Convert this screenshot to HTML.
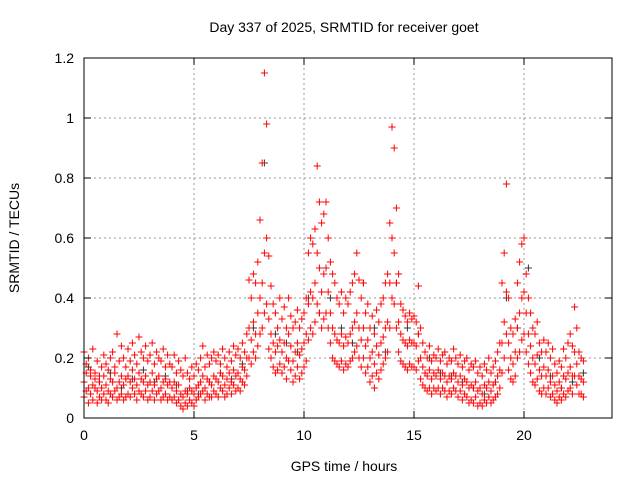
<!DOCTYPE html>
<html><head><meta charset="utf-8">
<style>
html,body{margin:0;padding:0;background:#fff;}
svg{display:block;font-family:"Liberation Sans",sans-serif;}
</style></head>
<body>
<svg id="chart" width="640" height="480" viewBox="0 0 640 480" xmlns="http://www.w3.org/2000/svg">
<rect width="640" height="480" fill="#fff"/>
<text x="344" y="32" font-size="14" text-anchor="middle">Day 337 of 2025, SRMTID for receiver goet</text>
<text x="344" y="471" font-size="14" text-anchor="middle">GPS time / hours</text>
<text transform="translate(19,238) rotate(-90)" font-size="14" text-anchor="middle">SRMTID / TECUs</text>
<g id="grid"></g><g id="marks"></g><g id="axes"></g>
</svg>
<script>
const xTicks=[0,5,10,15,20];
const yTicks=[0,0.2,0.4,0.6,0.8,1,1.2];
const yTickLabels=["0","0.2","0.4","0.6","0.8","1","1.2"];
const sampleStep=0.1; // hours between samples
const redUpper=[.22,.18,.20,.16,.23,.15,.19,.14,.17,.21,.18,.16,.20,.22,.17,.28,.19,.24,.20,.17,.23,.19,.25,.21,.18,.27,.22,.20,.24,.19,.21,.25,.18,.22,.20,.19,.23,.17,.21,.18,.17,.21,.15,.19,.16,.14,.20,.15,.13,.17,.14,.18,.16,.20,.24,.17,.21,.18,.20,.22,.19,.21,.18,.23,.20,.17,.22,.19,.24,.21,.23,.20,.25,.22,.28,.46,.40,.48,.45,.52,.66,.85,1.15,.98,.54,.44,.38,.35,.30,.40,.33,.37,.30,.40,.34,.30,.32,.36,.30,.33,.35,.40,.55,.60,.58,.63,.84,.72,.65,.68,.72,.60,.52,.48,.45,.40,.38,.42,.35,.40,.38,.42,.45,.48,.55,.46,.40,.45,.35,.38,.30,.34,.28,.36,.32,.38,.40,.45,.48,.65,.97,.90,.70,.48,.38,.36,.34,.32,.35,.33,.34,.32,.44,.30,.25,.22,.20,.24,.19,.21,.20,.23,.19,.21,.22,.18,.20,.19,.23,.20,.18,.21,.17,.19,.20,.16,.18,.17,.19,.15,.17,.14,.18,.16,.20,.15,.17,.19,.22,.25,.45,.55,.78,.40,.30,.28,.33,.45,.52,.58,.60,.48,.40,.35,.30,.28,.32,.25,.22,.26,.22,.25,.20,.23,.18,.15,.19,.17,.23,.20,.25,.28,.24,.37,.30,.22,.20,.19];
const redMid=[.12,.15,.10,.14,.11,.13,.09,.12,.10,.14,.11,.09,.13,.12,.15,.10,.12,.14,.11,.13,.14,.12,.16,.13,.11,.15,.13,.12,.14,.11,.12,.15,.11,.13,.14,.10,.12,.13,.11,.12,.10,.12,.09,.11,.08,.07,.09,.08,.10,.09,.08,.10,.11,.12,.14,.10,.13,.12,.11,.14,.13,.12,.15,.14,.11,.13,.15,.12,.16,.14,.15,.13,.17,.16,.20,.30,.26,.32,.28,.35,.40,.45,.55,.60,.33,.28,.25,.22,.24,.26,.22,.25,.20,.28,.24,.19,.22,.25,.21,.23,.25,.28,.38,.42,.40,.45,.55,.50,.42,.48,.50,.42,.35,.30,.28,.26,.25,.28,.24,.27,.25,.28,.30,.32,.35,.30,.26,.30,.24,.26,.20,.22,.18,.24,.21,.25,.27,.30,.32,.45,.60,.55,.45,.32,.28,.26,.25,.24,.26,.25,.25,.24,.28,.20,.17,.15,.14,.16,.13,.15,.14,.16,.13,.15,.14,.12,.14,.13,.15,.14,.12,.14,.11,.13,.12,.10,.11,.10,.12,.09,.10,.08,.11,.10,.12,.09,.11,.12,.14,.16,.25,.32,.42,.25,.20,.18,.22,.30,.35,.40,.42,.35,.28,.24,.20,.18,.21,.16,.14,.17,.14,.16,.12,.14,.11,.09,.12,.10,.14,.13,.15,.17,.14,.22,.18,.14,.13,.12];
const redLow=[.07,.09,.05,.08,.06,.10,.05,.07,.06,.08,.06,.05,.08,.07,.09,.06,.07,.08,.06,.07,.08,.07,.10,.08,.06,.09,.08,.07,.09,.06,.07,.09,.06,.08,.09,.06,.07,.08,.06,.07,.06,.07,.05,.06,.04,.03,.05,.04,.06,.05,.04,.06,.07,.08,.09,.06,.08,.07,.07,.09,.08,.07,.10,.09,.07,.08,.10,.08,.11,.09,.10,.09,.12,.11,.14,.20,.18,.22,.20,.24,.28,.30,.35,.38,.23,.20,.17,.15,.16,.18,.15,.17,.13,.19,.16,.12,.14,.17,.13,.15,.17,.19,.26,.30,.28,.32,.38,.35,.30,.33,.35,.30,.25,.20,.19,.18,.17,.19,.16,.18,.17,.19,.20,.22,.24,.20,.17,.20,.15,.17,.12,.14,.10,.15,.13,.16,.18,.20,.22,.30,.40,.38,.30,.22,.19,.18,.17,.16,.18,.17,.17,.16,.19,.13,.11,.10,.09,.10,.08,.10,.09,.10,.08,.10,.09,.07,.09,.08,.10,.09,.07,.09,.06,.08,.07,.05,.06,.05,.07,.04,.05,.04,.06,.05,.07,.05,.06,.07,.08,.10,.15,.20,.28,.16,.13,.12,.14,.20,.22,.26,.28,.22,.18,.15,.12,.11,.13,.09,.08,.10,.08,.10,.07,.08,.06,.05,.07,.06,.08,.07,.09,.10,.08,.14,.11,.08,.08,.07];
const blackStep=0.5;
const blackVals=[.17,.12,.15,.10,.13,.16,.12,.14,.11,.09,.08,.12,.15,.13,.18,.30,.85,.28,.25,.22,.40,.35,.40,.30,.25,.45,.30,.22,.45,.30,.28,.20,.15,.14,.12,.10,.08,.12,.40,.30,.50,.20,.14,.10,.12,.15];

const L=84,R=612,T=58,B=418,xMax=24,yMax=1.2;
const xs=v=>L+(v/xMax)*(R-L);
const ys=v=>B-(v/yMax)*(B-T);
const NS="http://www.w3.org/2000/svg";
function mk(tag,attrs,parent){const e=document.createElementNS(NS,tag);for(const k in attrs)e.setAttribute(k,attrs[k]);parent.appendChild(e);return e;}
const grid=document.getElementById('grid'),marks=document.getElementById('marks'),axes=document.getElementById('axes');
xTicks.forEach(t=>{
 const x=xs(t);
 if(t>0){const g=mk('line',{x1:x,x2:x,y1:T,y2:B,stroke:'#999','stroke-dasharray':'2,3','stroke-width':1},grid);
 }
 const tk=mk('path',{d:`M${x},${B}v-7M${x},${T}v7`,stroke:'#000'},axes);
 
 const lb=mk('text',{x:x,y:B+22,'font-size':14,'text-anchor':'middle'},axes);lb.textContent=String(t);
 
});
yTicks.forEach((t,i)=>{
 const y=ys(t);
 if(t>0&&t<yMax){const g=mk('line',{x1:L,x2:R,y1:y,y2:y,stroke:'#999','stroke-dasharray':'2,3','stroke-width':1},grid);
 }
 const tk=mk('path',{d:`M${L},${y}h7M${R},${y}h-7`,stroke:'#000'},axes);
 
 const lb=mk('text',{x:L-10,y:y+5,'font-size':14,'text-anchor':'end'},axes);lb.textContent=yTickLabels[i];
 
});
const frame=mk('rect',{x:L,y:T,width:R-L,height:B-T,fill:'none',stroke:'#000'},axes);

function plus(t,v,color){
 const x=xs(t),y=ys(v);
 const p=mk('path',{d:`M${x-3.5},${y}h7M${x},${y-3.5}v7`,stroke:color,'stroke-width':1},marks);
 
 
}
blackVals.forEach((v,i)=>plus(i*blackStep+0.2,v,'#333'));
[redUpper,redMid,redLow].forEach(arr=>arr.forEach((v,i)=>plus(i*sampleStep,v,'#f00')));
</script>
</body></html>
